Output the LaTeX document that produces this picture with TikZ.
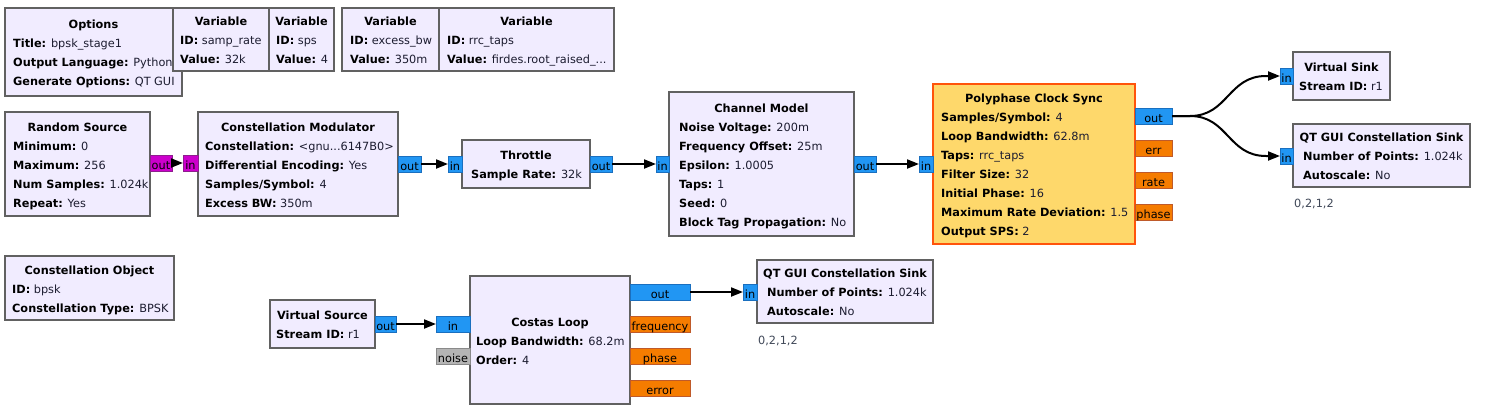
\documentclass[tikz,border=0pt]{standalone}
\usepackage{fontspec}
\setmainfont{DejaVu Sans}
\usetikzlibrary{arrows.meta,calc}
\definecolor{blkfill}{HTML}{F1ECFF}
\definecolor{blkdraw}{HTML}{616161}
\definecolor{depfill}{HTML}{FED86B}
\definecolor{depdraw}{HTML}{FF540B}
\definecolor{pblue}{HTML}{2196F3}
\definecolor{pbluedk}{HTML}{1A6FBF}
\definecolor{porange}{HTML}{F57C00}
\definecolor{porangedk}{HTML}{BF5A2A}
\definecolor{pmag}{HTML}{CC00CC}
\definecolor{pmagdk}{HTML}{8E1E8E}
\definecolor{pgrey}{HTML}{B4B4B4}
\definecolor{pgreydk}{HTML}{8A8A8A}
\definecolor{valc}{HTML}{1C1C30}
\definecolor{lblc}{HTML}{404858}
\newcommand\kv[2]{\textbf{#1:} \textcolor{valc}{#2}}
\newcommand\gblk[6]{\node[#2, minimum width=#5pt, minimum height=#6pt, anchor=north west] (#1) at (#3,#4) {};}
\newcommand\gport[6]{\node[#2, minimum width=#5pt, anchor=north west] (#1) at (#3,#4) {#6};}
\begin{document}
\begin{tikzpicture}[x=1pt,y=-1pt, font=\fontsize{11.3}{19}\selectfont,
 blk/.style={draw=blkdraw, fill=blkfill, line width=2pt, inner sep=0pt, outer sep=0pt},
 dep/.style={draw=depdraw, fill=depfill, line width=2pt, inner sep=0pt, outer sep=0pt},
 port/.style={line width=1pt, inner sep=0pt, outer sep=0pt, minimum height=16pt, text height=13pt, text depth=0pt},
 cplx/.style={port, fill=pblue, draw=pbluedk},
 flt/.style={port, fill=porange, draw=porangedk},
 byt/.style={port, fill=pmag, draw=pmagdk},
 msg/.style={port, fill=pgrey, draw=pgreydk},
 ttl/.style={inner sep=0pt, anchor=base, font=\fontsize{11.3}{19}\selectfont\bfseries},
 ln/.style={inner sep=0pt, anchor=base west},
 lbl/.style={inner sep=0pt, anchor=base west, text=lblc},
 conn/.style={line width=2pt, -{Triangle[length=12pt,width=9pt]}},
]
\fill[white] (0,0) rectangle (1487,418);
\useasboundingbox (0,0) rectangle (1487,418);

% ---------- Options and variables
\gblk{opt}{blk}{5}{8}{177}{88}
\node[ttl] (optT) at (93.5,28.5) {Options};
\node[ln] (opt1) at (13,47.5) {\kv{Title}{bpsk\_stage1}};
\node[ln] (opt2) at (13,66.5) {\kv{Output Language}{Python}};
\node[ln] (opt3) at (13,85.5) {\kv{Generate Options}{QT GUI}};

\gblk{va}{blk}{173}{8}{96}{63}
\node[ttl] (vaT) at (221,25.5) {Variable};
\node[ln] (va1) at (180,44.5) {\kv{ID}{samp\_rate}};
\node[ln] (va2) at (180,63.5) {\kv{Value}{32k}};

\gblk{vb}{blk}{269}{8}{65}{63}
\node[ttl] (vbT) at (301.5,25.5) {Variable};
\node[ln] (vb1) at (276,44.5) {\kv{ID}{sps}};
\node[ln] (vb2) at (276,63.5) {\kv{Value}{4}};

\gblk{vc}{blk}{342}{8}{97}{63}
\node[ttl] (vcT) at (390.5,25.5) {Variable};
\node[ln] (vc1) at (350,44.5) {\kv{ID}{excess\_bw}};
\node[ln] (vc2) at (350,63.5) {\kv{Value}{350m}};

\gblk{vd}{blk}{439}{8}{175}{63}
\node[ttl] (vdT) at (526.5,25.5) {Variable};
\node[ln] (vd1) at (447,44.5) {\kv{ID}{rrc\_taps}};
\node[ln] (vd2) at (447,63.5) {\kv{Value}{firdes.root\_raised\_...}};

% ---------- Random Source
\gblk{rs}{blk}{5}{112}{145}{104}
\node[ttl] (rsT) at (77.5,131) {Random Source};
\node[ln] (rs1) at (13,150) {\kv{Minimum}{0}};
\node[ln] (rs2) at (13,169) {\kv{Maximum}{256}};
\node[ln] (rs3) at (13,188) {\kv{Num Samples}{1.024k}};
\node[ln] (rs4) at (13,207) {\kv{Repeat}{Yes}};

% ---------- Constellation Modulator
\gblk{cm}{blk}{198}{112}{200}{104}
\node[ttl] (cmT) at (298,131) {Constellation Modulator};
\node[ln] (cm1) at (205,150) {\kv{Constellation}{<gnu...6147B0>}};
\node[ln] (cm2) at (205,169) {\kv{Differential Encoding}{Yes}};
\node[ln] (cm3) at (205,188) {\kv{Samples/Symbol}{4}};
\node[ln] (cm4) at (205,207) {\kv{Excess BW}{350m}};

% ---------- Throttle
\gblk{th}{blk}{462}{140}{128}{48}
\node[ttl] (thT) at (526,159.5) {Throttle};
\node[ln] (th1) at (471,178.5) {\kv{Sample Rate}{32k}};

% ---------- Channel Model
\gblk{ch}{blk}{669}{92}{185}{144}
\node[ttl] (chT) at (761.5,112) {Channel Model};
\node[ln] (ch1) at (679,131) {\kv{Noise Voltage}{200m}};
\node[ln] (ch2) at (679,150) {\kv{Frequency Offset}{25m}};
\node[ln] (ch3) at (679,169) {\kv{Epsilon}{1.0005}};
\node[ln] (ch4) at (679,188) {\kv{Taps}{1}};
\node[ln] (ch5) at (679,207) {\kv{Seed}{0}};
\node[ln] (ch6) at (679,226) {\kv{Block Tag Propagation}{No}};

% ---------- Polyphase Clock Sync
\gblk{pp}{dep}{933}{84}{202}{160}
\node[ttl] (ppT) at (1034,102.5) {Polyphase Clock Sync};
\node[ln] (pp1) at (941,121.5) {\kv{Samples/Symbol}{4}};
\node[ln] (pp2) at (941,140.5) {\kv{Loop Bandwidth}{62.8m}};
\node[ln] (pp3) at (941,159.5) {\kv{Taps}{rrc\_taps}};
\node[ln] (pp4) at (941,178.5) {\kv{Filter Size}{32}};
\node[ln] (pp5) at (941,197.5) {\kv{Initial Phase}{16}};
\node[ln] (pp6) at (941,216.5) {\kv{Maximum Rate Deviation}{1.5}};
\node[ln] (pp7) at (941,235.5) {\kv{Output SPS}{2}};

% ---------- Virtual Sink
\gblk{vs}{blk}{1293}{52}{97}{48}
\node[ttl] (vsT) at (1341.5,71.5) {Virtual Sink};
\node[ln] (vs1) at (1299,90.5) {\kv{Stream ID}{r1}};

% ---------- QT GUI Constellation Sink (top)
\gblk{qa}{blk}{1293}{124}{177}{63}
\node[ttl] (qaT) at (1381.5,141.5) {QT GUI Constellation Sink};
\node[ln] (qa1) at (1303,160.5) {\kv{Number of Points}{1.024k}};
\node[ln] (qa2) at (1303,179.5) {\kv{Autoscale}{No}};
\node[lbl] (qaL) at (1294,207) {0,2,1,2};

% ---------- Constellation Object
\gblk{co}{blk}{5}{256}{169}{64}
\node[ttl] (coT) at (89.5,274) {Constellation Object};
\node[ln] (co1) at (12,293) {\kv{ID}{bpsk}};
\node[ln] (co2) at (12,312) {\kv{Constellation Type}{BPSK}};

% ---------- Virtual Source
\gblk{vr}{blk}{270}{300}{105}{48}
\node[ttl] (vrT) at (322.5,319.5) {Virtual Source};
\node[ln] (vr1) at (276,338.5) {\kv{Stream ID}{r1}};

% ---------- Costas Loop
\gblk{cl}{blk}{470}{276}{160}{128}
\node[ttl] (clT) at (550,326) {Costas Loop};
\node[ln] (cl1) at (476,345) {\kv{Loop Bandwidth}{68.2m}};
\node[ln] (cl2) at (476,364) {\kv{Order}{4}};

% ---------- QT GUI Constellation Sink (bottom)
\gblk{qb}{blk}{757}{260}{176}{63}
\node[ttl] (qbT) at (845,277.5) {QT GUI Constellation Sink};
\node[ln] (qb1) at (767,296.5) {\kv{Number of Points}{1.024k}};
\node[ln] (qb2) at (767,315.5) {\kv{Autoscale}{No}};
\node[lbl] (qbL) at (758,344) {0,2,1,2};

% ---------- ports
\gport{rsout}{byt}{150}{155}{22}{out}
\gport{cmin}{byt}{183}{155}{15}{in}
\gport{cmout}{cplx}{398}{156}{23}{out}
\gport{thin}{cplx}{448}{156}{14}{in}
\gport{thout}{cplx}{590}{156}{22}{out}
\gport{chin}{cplx}{656}{156}{13}{in}
\gport{chout}{cplx}{854}{156}{22}{out}
\gport{ppin}{cplx}{919}{156}{14}{in}
\gport{ppout}{cplx}{1135}{108}{37}{out}
\gport{pperr}{flt}{1135}{140}{37}{err}
\gport{pprate}{flt}{1135}{172}{37}{rate}
\gport{ppphase}{flt}{1135}{204}{37}{phase}
\gport{vsin}{cplx}{1280}{68}{13}{in}
\gport{qain}{cplx}{1280}{148}{13}{in}
\gport{vrout}{cplx}{375}{316}{21}{out}
\gport{clin}{cplx}{436}{316}{34}{in}
\gport{clnoise}{msg}{436}{348}{34}{noise}
\gport{clout}{cplx}{630}{284}{60}{out}
\gport{clfreq}{flt}{630}{316}{60}{frequency}
\gport{clphase}{flt}{630}{348}{60}{phase}
\gport{clerr}{flt}{630}{380}{60}{error}
\gport{qbin}{cplx}{743}{284}{14}{in}

% ---------- connections
\coordinate (fork) at (1190,116);
\coordinate (vsa) at (1266,76);
\coordinate (qaa) at (1266,156);
\draw[conn] (rsout.east) -- (cmin.west);
\draw[conn] (cmout.east) -- (thin.west);
\draw[conn] (thout.east) -- (chin.west);
\draw[conn] (chout.east) -- (ppin.west);
\draw[conn] (ppout.east) -- (fork) .. controls (1228,116) and (1228,76) .. (vsa) -- (vsin.west);
\draw[conn] (ppout.east) -- (fork) .. controls (1228,116) and (1228,156) .. (qaa) -- (qain.west);
\draw[conn] (vrout.east) -- (clin.west);
\draw[conn] (clout.east) -- (qbin.west);
\end{tikzpicture}
\end{document}
